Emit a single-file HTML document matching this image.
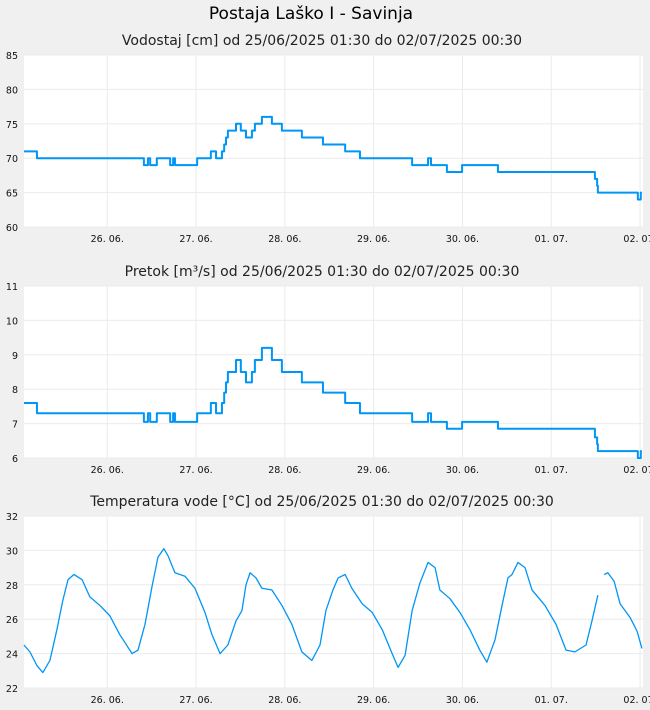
<!DOCTYPE html>
<html><head><meta charset="utf-8"><style>
html,body{margin:0;padding:0;background:#f0f0f0;}
svg{display:block;font-family:"DejaVu Sans","Liberation Sans",sans-serif;}
</style></head><body>
<svg id="c" width="650" height="710">
<text x="311" y="19" font-size="17" text-anchor="middle" fill="#000">Postaja Laško I - Savinja</text>
</svg>
<script>
const dayLabels = ["26. 06.","27. 06.","28. 06.","29. 06.","30. 06.","01. 07.","02. 07."];
const dayHours = [22.5,46.5,70.5,94.5,118.5,142.5,166.5];
const levelTimes = [0,3.5,32.4,33.5,34.1,35.9,39.5,40.3,40.8,46.8,50.5,51.9,53.5,54.1,54.6,55.1,57.3,58.6,60,61.6,62.4,64.3,67,69.7,75.1,80.8,86.8,90.8,104.9,109.2,110,114.3,118.4,128.1,154.3,154.9,155.1,165.9,166.7,167];
const levelValues = [71,70,69,70,69,70,69,70,69,70,71,70,71,72,73,74,75,74,73,74,75,76,75,74,73,72,71,70,69,70,69,68,69,68,67,66,65,64,65,65];
const flowTimes = levelTimes;
const flowValues = [7.6,7.3,7.05,7.3,7.05,7.3,7.05,7.3,7.05,7.3,7.6,7.3,7.6,7.9,8.2,8.5,8.85,8.5,8.2,8.5,8.85,9.2,8.85,8.5,8.2,7.9,7.6,7.3,7.05,7.3,7.05,6.85,7.05,6.85,6.6,6.4,6.2,6.0,6.2,6.2];
const tempTimes = [0,1.6,3.5,5.1,7,8.9,10.5,11.9,13.5,15.7,17.8,20.5,23.2,25.9,29.2,30.8,32.7,34.6,36.2,37.8,38.9,40.8,43.5,46.2,48.9,50.8,53,55.1,57.3,58.9,60,61.1,62.7,64.3,67,69.7,72.4,75.1,77.8,80,81.6,83.5,84.9,86.8,88.6,91.4,94.1,96.8,99.5,101.1,103,104.9,107,109.2,111.1,112.4,115.1,117.8,120.5,123.2,125.1,127.3,129.2,130.8,131.9,133.5,135.4,137.3,140.8,143.8,146.5,148.9,151.9,153.5,155.1,156,156.8,157.8,159.5,161.1,163.8,165.7,167];
const tempValues = [24.5,24.1,23.3,22.9,23.6,25.4,27.1,28.3,28.6,28.3,27.3,26.8,26.2,25.1,24.0,24.2,25.7,27.9,29.6,30.1,29.7,28.7,28.5,27.8,26.4,25.1,24.0,24.5,25.9,26.5,28.0,28.7,28.4,27.8,27.7,26.8,25.7,24.1,23.6,24.5,26.5,27.7,28.4,28.6,27.8,26.9,26.4,25.4,24.0,23.2,23.9,26.5,28.1,29.3,29.0,27.7,27.2,26.4,25.4,24.2,23.5,24.8,26.8,28.4,28.6,29.3,29.0,27.7,26.8,25.7,24.2,24.1,24.5,25.9,27.4,null,28.6,28.7,28.2,26.9,26.1,25.3,24.3];
const levelTicks = [60,65,70,75,80,85];
const flowTicks = [6,7,8,9,10,11];
const tempTicks = [22,24,26,28,30,32];

const svg = document.getElementById('c');
const NS = 'http://www.w3.org/2000/svg';
const X0 = 24, X1 = 643, PXH = 3.7;
function xs(h){ return X0 + h*PXH; }
function mk(tag, attrs, parent){ const e=document.createElementNS(NS,tag); for(const k in attrs) e.setAttribute(k,attrs[k]); (parent||svg).appendChild(e); return e; }

function panel(name, title, top, bottom, ticks, times, values, step, lw){
  const g = mk('g',{});
  
  
  const lo = ticks[0], hi = ticks[ticks.length-1];
  const ys = v => bottom - (v-lo)/(hi-lo)*(bottom-top);
  const t = mk('text',{x:322,y:top-10,'font-size':14,'text-anchor':'middle',fill:'#222'},g);
  t.textContent = title;
  
  
  const bg = mk('rect',{x:X0,y:top,width:X1-X0,height:bottom-top,fill:'#fff'},g);
  
  
  ticks.forEach(v=>{
    mk('line',{x1:X0,x2:X1,y1:ys(v),y2:ys(v),stroke:'#ebebeb','stroke-width':1},g);
    const l = mk('text',{x:18,y:ys(v)+4,'font-size':9.5,'text-anchor':'end',fill:'#111'},g);
    l.textContent = v;
    
    
  });
  dayHours.forEach((h,i)=>{
    mk('line',{x1:xs(h),x2:xs(h),y1:top,y2:bottom,stroke:'#ebebeb','stroke-width':1},g);
    const l = mk('text',{x:xs(h),y:bottom+15,'font-size':9.5,'text-anchor':'middle',fill:'#111'},g);
    l.textContent = dayLabels[i];
    
    
  });
  let d = '', pen = false;
  for(let i=0;i<times.length;i++){
    if(values[i]===null){ pen=false; continue; }
    const x = xs(times[i]), y = ys(values[i]);
    if(!pen){ d += 'M'+x+' '+y; pen=true; }
    else {
      if(step){ d += 'L'+x+' '+ys(values[i-1]); }
      d += 'L'+x+' '+y;
    }
  }
  const p = mk('path',{d:d,fill:'none',stroke:'#0096f5','stroke-width':lw,'stroke-linejoin':'round'},g);
  
  
}
panel('water-level','Vodostaj [cm] od 25/06/2025 01:30 do 02/07/2025 00:30',55,227,levelTicks,levelTimes,levelValues,true,2);
panel('discharge','Pretok [m³/s] od 25/06/2025 01:30 do 02/07/2025 00:30',286,458,flowTicks,flowTimes,flowValues,true,2);
panel('water-temperature','Temperatura vode [°C] od 25/06/2025 01:30 do 02/07/2025 00:30',516,688,tempTicks,tempTimes,tempValues,false,1.3);
</script>
</body></html>
